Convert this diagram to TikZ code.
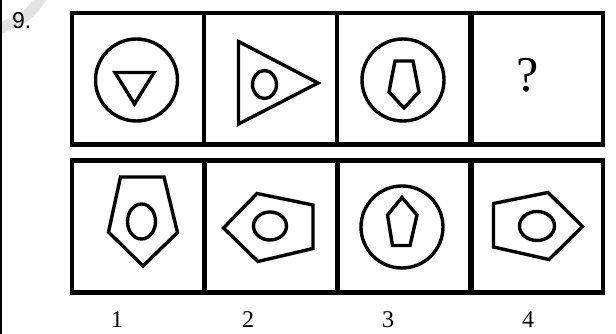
\documentclass[tikz,border=0pt]{standalone}
\usepackage{fontspec}
\setmainfont{Liberation Serif}
\newfontfamily\arialfont{Liberation Sans}
\begin{document}
\begin{tikzpicture}[x=1pt,y=-1pt,
  boxline/.style={line width=4.5pt, line join=miter},
  shp/.style={line width=3.4pt, line join=miter},
  numlbl/.style={font=\fontsize{24}{28}\selectfont, anchor=base, inner sep=0pt}]
\useasboundingbox (0,0) rectangle (616,334);
% watermark and left margin line
\draw[gray!22, line width=11pt] (42,-3) .. controls (28,16) .. (-3,30);
\draw[line width=2pt] (1,0) -- (1,334);
\node[font=\arialfont\fontsize{23}{27}\selectfont, anchor=base west, inner sep=0pt] (qnum) at (12,28.5) {9.};
% top row
\draw[boxline] (72,13) rectangle (603,144.5);
\draw[boxline] (204,13) -- (204,144.5);
\draw[boxline] (337,13) -- (337,144.5);
\draw[line width=5.5pt] (471,13) -- (471,144.5);
% bottom row
\draw[boxline] (72,160.5) rectangle (603,292.5);
\draw[boxline] (204.5,160.5) -- (204.5,292.5);
\draw[boxline] (337.5,160.5) -- (337.5,292.5);
\draw[line width=5.5pt] (471,160.5) -- (471,292.5);
% top cell 1
\draw[shp] (136.5,80) circle[radius=41];
\draw[shp] (115,72.5) -- (154,72.5) -- (134.5,104) -- cycle;
% top cell 2
\draw[shp] (238.5,41.5) -- (318,83) -- (238.5,124) -- cycle;
\draw[shp] (264.5,84.5) ellipse[x radius=12, y radius=14];
% top cell 3
\draw[shp] (403,80) circle[radius=41];
\draw[shp] (395,61) -- (413,61) -- (419,92) -- (404,108) -- (389,92) -- cycle;
% question mark
\node[font=\fontsize{50}{56}\selectfont, anchor=base, inner sep=0pt] (qm) at (527.5,92) {?};
% bottom cell 1
\draw[shp] (120.5,177) -- (164,177) -- (177.5,232.5) -- (143,266) -- (108.5,232) -- cycle;
\draw[shp] (141.5,221.5) ellipse[x radius=14, y radius=17.5];
% bottom cell 2
\draw[shp] (223.5,228) -- (257,193.5) -- (313,205) -- (313,248.5) -- (258,261.5) -- cycle;
\draw[shp] (270,226) ellipse[x radius=16.5, y radius=14];
% bottom cell 3
\draw[shp] (402,227) circle[radius=41];
\draw[shp] (402,197.5) -- (417,215) -- (410,245.5) -- (392.5,245.5) -- (387.5,215) -- cycle;
% bottom cell 4
\draw[shp] (493.5,203.5) -- (548,192.5) -- (582.5,226.5) -- (549,259.5) -- (493.5,247) -- cycle;
\draw[shp] (537,226) ellipse[x radius=17.5, y radius=14.5];
% option numbers
\node[numlbl] (n1) at (117,327) {1};
\node[numlbl] (n2) at (248,327) {2};
\node[numlbl] (n3) at (388,327) {3};
\node[numlbl] (n4) at (528,327) {4};
\end{tikzpicture}
\end{document}
